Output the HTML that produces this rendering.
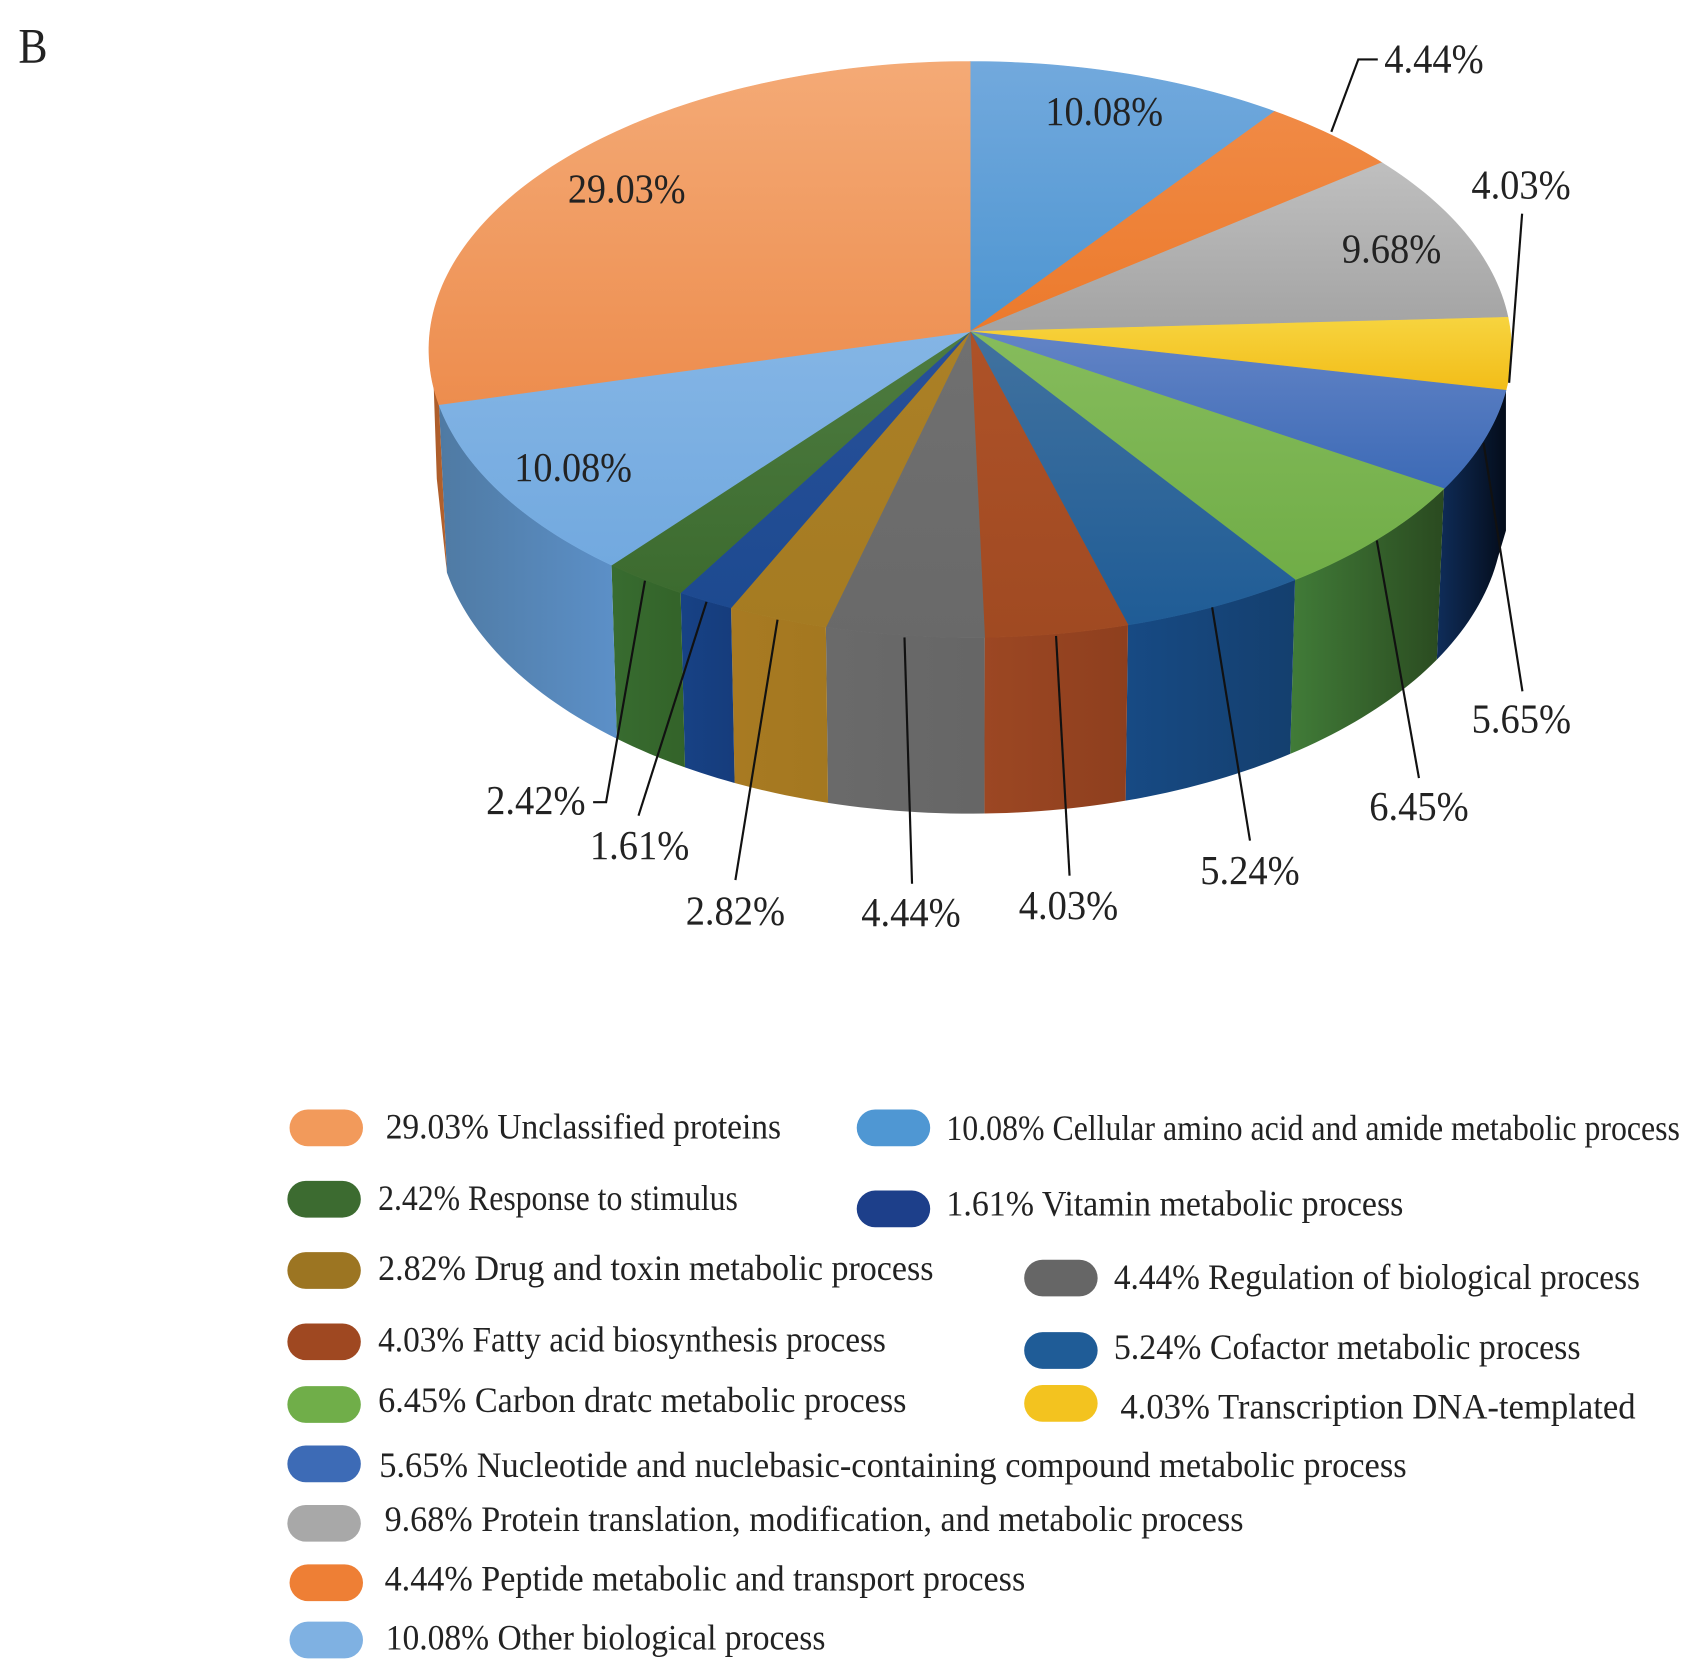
<!DOCTYPE html>
<html lang="en">
<head>
<meta charset="utf-8">
<title>Biological process pie chart</title>
<style>
  html, body { margin: 0; padding: 0; background: #fff; width: 1694px; height: 1675px; overflow: hidden; }
  svg { display: block; }
  text { font-family: "Liberation Serif", "DejaVu Serif", serif; fill: #222; }
</style>
</head>
<body>
<svg id="chart" xmlns="http://www.w3.org/2000/svg" width="1694" height="1675" viewBox="0 0 1568 1550.4">
  <defs id="grads"></defs>
  <text x="17" y="58" font-size="46" textLength="27" lengthAdjust="spacingAndGlyphs">B</text>
  <g id="walls"></g>
  <g id="tops"></g>
  <g id="leaders"></g>
  <g id="labels"></g>
  <g id="legend"></g>
</svg>
<script>
// Data: percentages, clockwise from 12 o'clock
const sliceNames = [
  "Cellular amino acid and amide metabolic process",
  "Peptide metabolic and transport process",
  "Protein translation, modification, and metabolic process",
  "Transcription DNA-templated",
  "Nucleotide and nuclebasic-containing compound metabolic process",
  "Carbon dratc metabolic process",
  "Cofactor metabolic process",
  "Fatty acid biosynthesis process",
  "Regulation of biological process",
  "Drug and toxin metabolic process",
  "Vitamin metabolic process",
  "Response to stimulus",
  "Other biological process",
  "Unclassified proteins"
];
const sliceValues = [10.08, 4.44, 9.68, 4.03, 5.65, 6.45, 5.24, 4.03, 4.44, 2.82, 1.61, 2.42, 10.08, 29.03];

// Styles
const topColors = [
  ["#72a9dd", "#4d95d1"], ["#f08a45", "#ec7a2c"], ["#bfbfbf", "#a3a3a3"], ["#f7d43f", "#f2bd18"],
  ["#6384c6", "#3c6ab6"], ["#86bc5c", "#70ad47"], ["#41729f", "#1f5c96"], ["#ae5228", "#a04a22"],
  ["#707070", "#696969"], ["#ab8026", "#a57b22"], ["#28509a", "#1d4a90"], ["#4e7c40", "#3c6b2f"],
  ["#84b5e5", "#72a9df"], ["#f4aa76", "#ed8d4e"]
];
const wallColors = [
  ["#4d95d1", "#4d95d1"], ["#a85a20", "#a85a20"], ["#777777", "#777777"], ["#8a6c10", "#8a6c10"],
  ["#0f2d5a", "#040c1a"], ["#417c38", "#2a4a20"], ["#174a84", "#143f6e"], ["#9c4723", "#8e3f1e"],
  ["#6a6a6a", "#666666"], ["#a87a22", "#a47820"], ["#174285", "#163c7c"], ["#386c30", "#336329"],
  ["#4f7aa3", "#5c90c8"], ["#a85a28", "#b5622e"]
];
const swatchColors = ["#4f97d3", "#ee7f35", "#a8a8a8", "#f3c31f", "#3d6bb6", "#70ae49", "#1f5c97", "#9f4821", "#666666", "#9c7522", "#1d3f8a", "#3c6b30", "#7fb1e2", "#f29a5b"];

// Layout (offsets relative to each slice's rim midpoint)
const labelOffsets = [[-23,35],[95,-70],[-69,14],[9,-155.5],[35,258],[37,249],[32,245],[10.5,252],[6,257],[-39,271],[-61,227],[-101,205],[68,-22],[63,25]];
const leaderRoutes = [null, [[0,-3],[25,-70],[43,-70]], null, [[-2,27],[10,-129.5]], [[0,2],[36,232]], [[-2,2],[37,222]], [[-3,1],[32,217]], [[-1,2],[11.5,224]], [[0,2],[7,230]], [[0,1],[-39,242]], [[1,1],[-62,199]], [[0,1],[-36,206],[-48,206]], null, null];
// legend order: slice index, swatch x, swatch y, text x, text width, text centre y
const legendRows = [
  [13,268,1027,357,366,1044],[0,793,1027,876,679,1045],
  [11,266,1093,350,333,1110],[10,793,1102,876,423,1115],
  [9,266,1159,350,514,1175],[8,948,1166,1031,487,1183],
  [7,266,1225,350,470,1241],[6,948,1233,1031,432,1248],
  [5,266,1283,350,489,1297],[3,948,1282,1037,477,1303],
  [4,266,1338,351,951,1357],[2,266,1393,356,795,1407],
  [1,268,1448,356,593,1462],[12,268,1501,357,407,1517]
];

// Projection of the disc onto the screen
const cx = 898, cy = 307, radX = 500, radY = 265.5, persp = 0.0619, wallH = 153, wallShrink = 0.985;
const wallStartAngle = 102 * Math.PI / 180, wallEndAngle = 273 * Math.PI / 180;
const NS = "http://www.w3.org/2000/svg";
const total = sliceValues.reduce((a, b) => a + b, 0);
function angleOf(pct) { return 2 * Math.PI * pct / total; }
function rimPoint(a) {
  const u = Math.sin(a), v = -Math.cos(a), d = 1 - persp * v;
  return [cx + radX * u / d, cy + radY * v / d];
}
function floorPoint(a) {
  const u = Math.sin(a), v = -Math.cos(a), d = 1 - persp * v;
  return [cx + wallShrink * radX * u / d, cy + radY * v / d + wallH / d];
}
function arcPts(fn, a0, a1) {
  const n = Math.max(2, Math.ceil((a1 - a0) / 0.02)), pts = [];
  for (let i = 0; i <= n; i++) { pts.push(fn(a0 + (a1 - a0) * i / n)); }
  return pts;
}
function toD(pts) { return "M" + pts.map(p => p[0].toFixed(2) + " " + p[1].toFixed(2)).join("L"); }
function gradient(id, c0, c1, horizontal) {
  const g = document.createElementNS(NS, "linearGradient");
  g.setAttribute("id", id);
  g.setAttribute("x1", "0"); g.setAttribute("y1", "0");
  g.setAttribute("x2", horizontal ? "1" : "0"); g.setAttribute("y2", horizontal ? "0" : "1");
  [[0, c0], [1, c1]].forEach(s => {
    const st = document.createElementNS(NS, "stop");
    st.setAttribute("offset", s[0]);
    st.setAttribute("stop-color", s[1]);
    g.appendChild(st);
  });
  document.getElementById("grads").appendChild(g);
}
function slug(s) { return s.toLowerCase().replace(/[^a-z0-9]+/g, "-").replace(/^-|-$/g, ""); }
function wallOutline(a0, a1) {
  // only the part of the side wall that faces the viewer
  if (a1 <= wallStartAngle || a0 >= wallEndAngle) { return null; }
  if (a1 > wallEndAngle) {
    // left silhouette: a thin sliver dropping from the leftmost rim point
    const rim = arcPts(rimPoint, a0, wallEndAngle);
    const last = rim[rim.length - 1];
    return rim.concat([[last[0], last[1] + 30], [last[0] + 4, last[1] + 150], floorPoint(a0)]);
  }
  const rim = arcPts(rimPoint, a0, a1);
  const floor = arcPts(floorPoint, a0, a1).reverse();
  const pts = rim.concat(floor);
  if (a0 < wallStartAngle + 0.2) {
    // right silhouette: nearly vertical drop before the floor curve begins
    const r0 = rimPoint(a0);
    pts.push([r0[0], r0[1] + 130]);
  }
  return pts;
}

const wallsG = document.getElementById("walls");
const topsG = document.getElementById("tops");
const leadersG = document.getElementById("leaders");
const labelsG = document.getElementById("labels");
const legendG = document.getElementById("legend");

let cum = 0;
sliceValues.forEach((val, i) => {
  const a0 = angleOf(cum), a1 = angleOf(cum + val), mid = (a0 + a1) / 2;
  cum += val;
  const key = slug(sliceNames[i]);
  gradient("top" + i, topColors[i][0], topColors[i][1], false);
  gradient("wall" + i, wallColors[i][0], wallColors[i][1], true);

  const rim = arcPts(rimPoint, a0, a1);

  const outline = wallOutline(a0, a1);
  if (outline) {
    const wall = document.createElementNS(NS, "path");
    wall.setAttribute("d", toD(outline) + "Z");
    wall.setAttribute("fill", "url(#wall" + i + ")");
    
    
    wallsG.appendChild(wall);
  }

  const top = document.createElementNS(NS, "path");
  top.setAttribute("d", toD([[cx, cy]].concat(rim)) + "Z");
  top.setAttribute("fill", "url(#top" + i + ")");
  top.setAttribute("stroke", "url(#top" + i + ")");
  top.setAttribute("stroke-width", "0.6");
  
  
  topsG.appendChild(top);

  const m = rimPoint(mid);
  if (leaderRoutes[i]) {
    const line = document.createElementNS(NS, "polyline");
    line.setAttribute("points", leaderRoutes[i].map(o => (m[0] + o[0]).toFixed(1) + "," + (m[1] + o[1]).toFixed(1)).join(" "));
    line.setAttribute("fill", "none");
    line.setAttribute("stroke", "#111");
    line.setAttribute("stroke-width", "2");
    
    
    leadersG.appendChild(line);
  }

  const str = val.toFixed(2) + "%";
  const label = document.createElementNS(NS, "text");
  label.textContent = str;
  label.setAttribute("x", (m[0] + labelOffsets[i][0]).toFixed(1));
  label.setAttribute("y", (m[1] + labelOffsets[i][1] + 12).toFixed(1));
  label.setAttribute("text-anchor", "middle");
  label.setAttribute("font-size", "38");
  label.setAttribute("textLength", str.length > 5 ? "109" : "92");
  label.setAttribute("lengthAdjust", "spacingAndGlyphs");
  
  
  labelsG.appendChild(label);
});

legendRows.forEach(r => {
  const idx = r[0];
  const key = slug(sliceNames[idx]);
  const sw = document.createElementNS(NS, "rect");
  sw.setAttribute("x", r[1]);
  sw.setAttribute("y", r[2]);
  sw.setAttribute("width", "68");
  sw.setAttribute("height", "34");
  sw.setAttribute("rx", "17");
  sw.setAttribute("fill", swatchColors[idx]);
  
  
  legendG.appendChild(sw);

  const t = document.createElementNS(NS, "text");
  t.textContent = sliceValues[idx].toFixed(2) + "% " + sliceNames[idx];
  t.setAttribute("x", r[3]);
  t.setAttribute("y", r[5] + 10);
  t.setAttribute("font-size", "33");
  t.setAttribute("textLength", r[4]);
  t.setAttribute("lengthAdjust", "spacingAndGlyphs");
  t.setAttribute("fill", "#333");
  
  
  legendG.appendChild(t);
});
</script>
</body>
</html>
